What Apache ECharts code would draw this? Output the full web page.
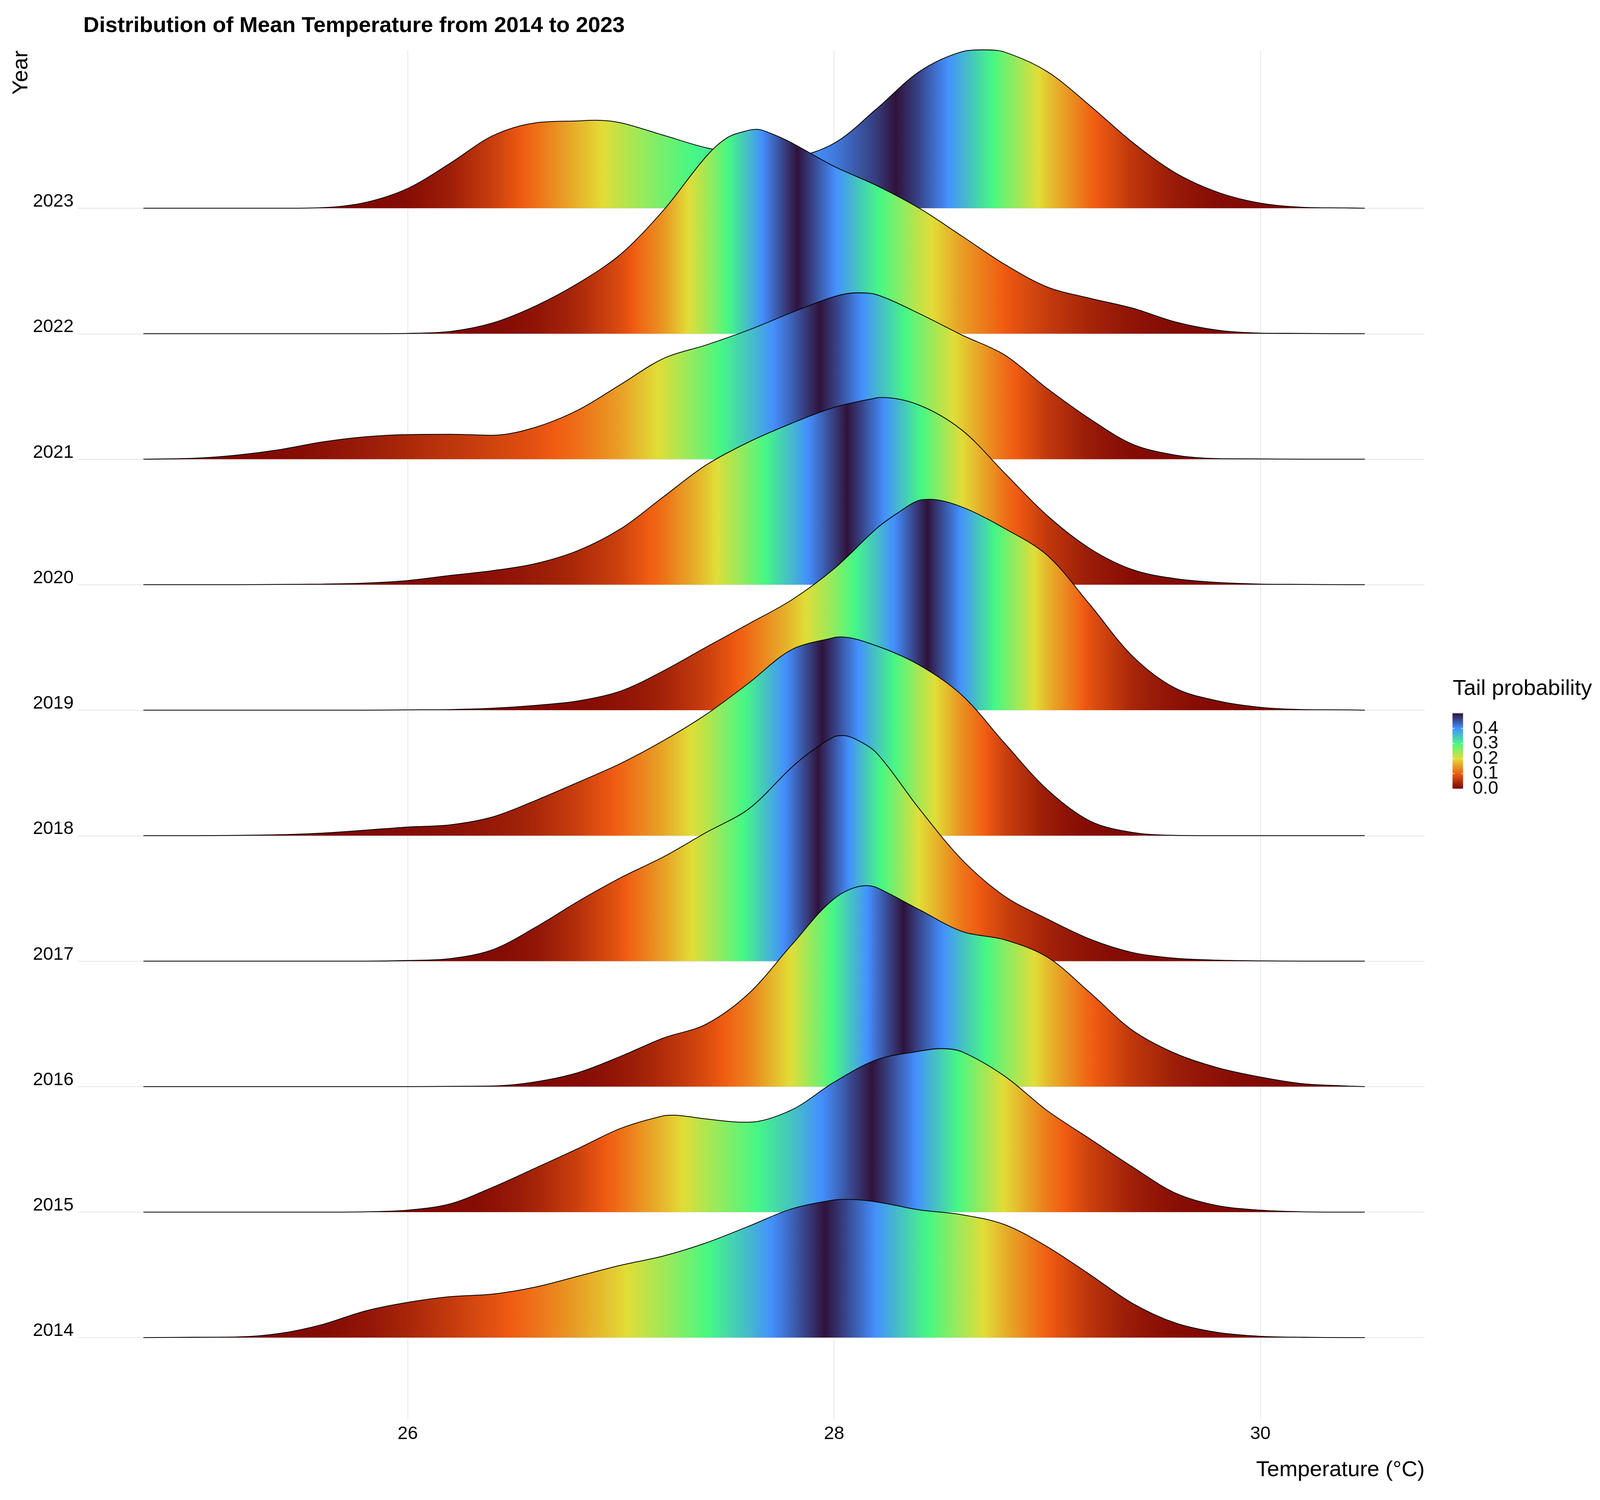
<!DOCTYPE html>
<html>
<head>
<meta charset="utf-8">
<style>html,body{margin:0;padding:0;background:#fff;overflow:hidden}#c{width:100vw;height:100vh}</style>
<script src="https://cdn.jsdelivr.net/npm/echarts@6/dist/echarts.min.js"></script>
</head>
<body>
<div id="c"></div>
<script>
const FONT = '"Liberation Sans", Arial, sans-serif';
const chartTitle = 'Distribution of Mean Temperature from 2014 to 2023';
const xName = 'Temperature (°C)';
const yName = 'Year';
const legendName = 'Tail probability';
const xTicks = [26, 28, 30];
const years = [2014, 2015, 2016, 2017, 2018, 2019, 2020, 2021, 2022, 2023];
const legendTicks = [0, 0.1, 0.2, 0.3, 0.4];
const legendLabels = ['0.0', '0.1', '0.2', '0.3', '0.4', ''];
// turbo palette, tail probability 0 -> 0.5
const palette = ['#7A0403', '#F05B12', '#E1DD37', '#46F884', '#4490FE', '#30123B'];
const temps = [24.76, 25, 25.2, 25.4, 25.6, 25.8, 26, 26.2, 26.4, 26.6, 26.8, 27, 27.2, 27.4, 27.6, 27.8, 28, 28.2, 28.4, 28.6, 28.8, 29, 29.2, 29.4, 29.6, 29.8, 30, 30.2, 30.4, 30.49];
const d2014 = [0, .001, .002, .013, .041, .083, .110, .128, .136, .158, .192, .226, .255, .296, .348, .402, .430, .424, .399, .384, .353, .284, .197, .107, .046, .016, .004, .001, 0, 0];
const d2015 = [0, 0, 0, 0, 0, .001, .006, .026, .078, .138, .199, .262, .301, .291, .281, .319, .406, .476, .503, .501, .425, .317, .229, .141, .060, .020, .006, .001, 0, 0];
const d2016 = [0, 0, 0, 0, 0, 0, 0, .001, .002, .015, .044, .095, .152, .195, .291, .442, .587, .622, .553, .485, .459, .405, .294, .176, .104, .059, .030, .009, .002, 0];
const d2017 = [0, 0, 0, 0, 0, 0, .002, .008, .036, .106, .187, .261, .326, .402, .476, .605, .701, .650, .476, .317, .203, .132, .069, .027, .009, .003, .001, 0, 0, 0];
const d2018 = [0, 0, .001, .003, .008, .017, .027, .034, .059, .110, .167, .226, .297, .379, .477, .581, .619, .593, .533, .439, .289, .144, .046, .010, .001, 0, 0, 0, 0, 0];
const d2019 = [0, 0, 0, 0, 0, 0, .001, .002, .006, .015, .029, .060, .123, .197, .270, .344, .442, .568, .656, .635, .568, .484, .330, .169, .069, .029, .009, .002, .001, 0];
const d2020 = [0, 0, 0, .001, .002, .005, .013, .029, .044, .066, .107, .175, .275, .374, .446, .504, .554, .584, .561, .483, .349, .216, .113, .047, .019, .007, .002, .001, 0, 0];
const d2021 = [0, .003, .013, .030, .054, .070, .077, .078, .075, .100, .154, .234, .315, .357, .404, .458, .508, .514, .455, .388, .326, .221, .126, .047, .013, .002, .001, 0, 0, 0];
const d2022 = [0, 0, 0, 0, 0, 0, .001, .007, .034, .087, .158, .249, .386, .554, .636, .597, .523, .463, .392, .305, .217, .146, .111, .080, .037, .011, .002, .001, 0, 0];
const d2023 = [0, 0, 0, 0, .002, .018, .062, .141, .227, .267, .273, .267, .228, .189, .166, .163, .203, .311, .427, .489, .488, .427, .321, .206, .111, .050, .016, .003, .001, 0];
const densities = [d2014, d2015, d2016, d2017, d2018, d2019, d2020, d2021, d2022, d2023];
// extra points read at each curve's peaks and dips: [temperature, density]
const k2014 = [[28.06, .432]];
const k2015 = [[27.24, .303], [27.57, .281], [28.5, .511]];
const k2016 = [[28.15, .628]];
const k2017 = [[27.9, .659], [28.04, .705], [28.1, .694]];
const k2018 = [[28.03, .621]];
const k2019 = [[28.3, .617], [28.45, .659]];
const k2020 = [[28.22, .585]];
const k2021 = [[28.11, .520]];
const k2022 = [[27.5, .613], [27.64, .639], [27.7, .627]];
const k2023 = [[26.88, .275], [28.7, .495]];
const extraKnots = [k2014, k2015, k2016, k2017, k2018, k2019, k2020, k2021, k2022, k2023];
const ridgeScale = 2.55;

const tMin = temps[0], tMax = temps[temps.length - 1];

const el = document.getElementById('c');
// Layout below is written for a 5760x3840 page and follows the real window size
const sx = window.innerWidth / 5760, sy = window.innerHeight / 3840;
const X = v => v * sx, Y = v => v * sy;
const fs = Math.sqrt(sx * sy);
const F = v => v * fs;

function points(i) {
  const pts = temps.map((t, k) => [t, densities[i][k]]).concat(extraKnots[i]);
  return pts.sort((a, b) => a[0] - b[0]);
}

function colourFor(p) { return echarts.color.lerp(Math.min(p / 0.5, 1), palette); }

// Fill follows the tail probability computed from each year's density
function tailGradient(pts) {
  const cum = [0];
  for (let i = 1; i < pts.length; i++) cum.push(cum[i - 1] + (pts[i][1] + pts[i - 1][1]) / 2 * (pts[i][0] - pts[i - 1][0]));
  const total = cum[cum.length - 1];
  const cdf = cum.map(v => v / total);
  const tempAt = q => {
    for (let i = 1; i < cdf.length; i++) {
      if (cdf[i] >= q && cdf[i] > cdf[i - 1]) {
        return pts[i - 1][0] + (q - cdf[i - 1]) / (cdf[i] - cdf[i - 1]) * (pts[i][0] - pts[i - 1][0]);
      }
    }
    return tMax;
  };
  const stops = [{ offset: 0, color: palette[0] }];
  const off = t => (t - tMin) / (tMax - tMin);
  for (let k = 0; k <= 100; k++) {
    const q = k / 100;
    const p = Math.min(q, 1 - q);
    const eps = q === 0 ? 0.0005 : q === 1 ? 0.9995 : q;
    stops.push({ offset: off(tempAt(eps)), color: colourFor(p) });
  }
  stops.push({ offset: 1, color: palette[0] });
  return new echarts.graphic.LinearGradient(0, 0, 1, 0, stops);
}

const ridgeSeries = years.map((yr, i) => {
  const pts = points(i);
  return {
    type: 'line',
    name: String(yr),
    xAxisIndex: 0,
    yAxisIndex: 0,
    z: 20 - i,
    data: pts.map(p => [p[0], yr + p[1] * ridgeScale]),
    smooth: 0.33,
    showSymbol: false,
    symbol: 'none',
    silent: true,
    clip: false,
    lineStyle: { color: '#000', width: 2.4 * fs },
    areaStyle: { origin: yr, opacity: 1, color: tailGradient(pts) }
  };
});

const legendBar = {
  type: 'bar',
  xAxisIndex: 1,
  yAxisIndex: 1,
  z: 3,
  silent: true,
  barWidth: '100%',
  data: [0.5],
  itemStyle: {
    color: new echarts.graphic.LinearGradient(0, 1, 0, 0, palette.map((c, i) => ({ offset: i / (palette.length - 1), color: c })))
  }
};

const chart = echarts.init(el);
chart.setOption({
  animation: false,
  backgroundColor: '#fff',
  title: [
    { text: chartTitle, left: X(300), top: Y(42), padding: 0,
      textStyle: { fontFamily: FONT, fontWeight: 'bold', fontSize: F(66.67), lineHeight: Y(49), color: '#000' } },
    { text: legendName, left: X(5230), top: Y(1739), padding: 0,
      textStyle: { fontFamily: FONT, fontWeight: 'normal', fontSize: F(66.67), lineHeight: Y(48), color: '#000' } },
    { text: xName, right: X(5760 - 5129), top: Y(3739), padding: 0,
      textStyle: { fontFamily: FONT, fontWeight: 'normal', fontSize: F(66.67), lineHeight: Y(48), color: '#000' } }
  ],
  grid: [
    { left: X(280), width: X(4849), top: Y(129), height: Y(3504), containLabel: false },
    { left: X(5229), width: X(38), top: Y(1826), height: Y(193), containLabel: false }
  ],
  xAxis: [
    { type: 'value', gridIndex: 0, min: 24.452, max: 30.771, scale: true,
      axisLine: { show: false },
      axisTick: { show: false, customValues: xTicks },
      axisLabel: { customValues: xTicks, margin: Y(18), fontFamily: FONT, fontSize: F(55.56), color: '#000', verticalAlign: 'top', lineHeight: Y(41), formatter: v => String(v) },
      splitLine: { show: true, lineStyle: { color: '#E6E6E6', width: 2.2 * fs } }
    },
    { type: 'category', gridIndex: 1, data: [''], show: false }
  ],
  yAxis: [
    { type: 'value', gridIndex: 0, min: 2013.35, max: 2024.258, scale: true,
      axisLine: { show: false },
      axisTick: { show: false, customValues: years },
      axisLabel: { customValues: years, margin: X(15), fontFamily: FONT, fontSize: F(55.56), color: '#000', verticalAlign: 'bottom', lineHeight: F(40), formatter: v => String(v) },
      splitLine: { show: true, lineStyle: { color: '#E6E6E6', width: 2.2 * fs } },
      name: yName, nameLocation: 'end', nameGap: 0, nameRotate: 90,
      nameTextStyle: { fontFamily: FONT, fontSize: F(66.67), color: '#000', align: 'right', verticalAlign: 'bottom', lineHeight: F(52), padding: [0, 0, X(172), 0] }
    },
    { type: 'value', gridIndex: 1, position: 'left', min: 0, max: 0.5, z: 10,
      axisLine: { show: false },
      axisTick: { show: true, inside: true, length: X(8), customValues: legendTicks, lineStyle: { color: '#fff', width: 1.6 * fs } },
      axisLabel: { show: false },
      splitLine: { show: false }
    },
    { type: 'category', gridIndex: 1, position: 'right', data: legendLabels, boundaryGap: false, z: 10,
      axisLine: { show: false },
      axisTick: { show: true, inside: true, length: X(8), interval: i => i < legendTicks.length, lineStyle: { color: '#fff', width: 1.6 * fs } },
      axisLabel: { interval: 0, margin: X(35), fontFamily: FONT, fontSize: F(55.56), color: '#000', hideOverlap: false },
      splitLine: { show: false }
    }
  ],
  series: ridgeSeries.concat([legendBar])
});
</script>
</body>
</html>
